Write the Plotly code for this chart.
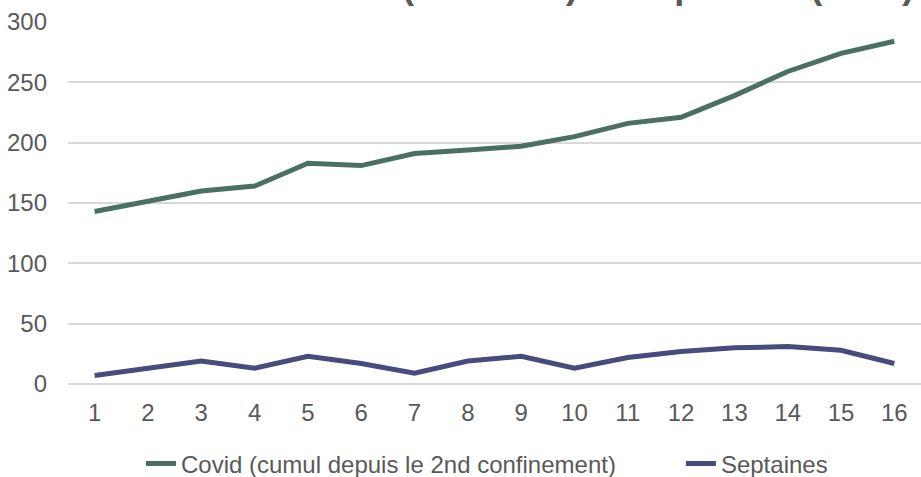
import plotly.graph_objects as go

weeks = [str(i) for i in range(1, 17)]
covid = [143, 151, 160, 164, 183, 181, 191, 194, 197, 205, 216, 221, 239, 259, 274, 284]
septaines = [7, 13, 19, 13, 23, 17, 9, 19, 23, 13, 22, 27, 30, 31, 28, 17]
y_ticks = [0, 50, 100, 150, 200, 250, 300]

title_text = "Nombre de cas (Covid-19) et Septaines (2021)"
covid_name = "Covid (cumul depuis le 2nd confinement)" + "\u00a0" * 9
sept_name = "Septaines"
font_family = "Liberation Sans, Arial, sans-serif"
gray = "#595959"

fig = go.Figure()
fig.add_trace(go.Scatter(x=weeks, y=covid, mode="lines", name=covid_name,
                         line=dict(color="#4A6F65", width=5)))
fig.add_trace(go.Scatter(x=weeks, y=septaines, mode="lines", name=sept_name,
                         line=dict(color="#474C7C", width=5)))

fig.update_layout(
    width=921, height=477,
    margin=dict(l=68, r=0, t=22, b=93, autoexpand=False),
    paper_bgcolor="white", plot_bgcolor="white",
    font=dict(family=font_family, size=24, color=gray),
    showlegend=True,
    legend=dict(orientation="h", xref="container", yref="container",
                x=141 / 921, xanchor="left", y=1 - 464 / 477, yanchor="middle",
                font=dict(size=24, color=gray), bgcolor="rgba(0,0,0,0)"),
    annotations=[dict(text=title_text, xref="paper", yref="paper", x=0.075, y=1,
                      xanchor="left", yanchor="bottom", yshift=14, showarrow=False,
                      font=dict(size=36, color=gray, family=font_family, weight="bold"))],
)
fig.update_xaxes(type="category", range=[-0.5, 15.5], showgrid=False, showline=False,
                 automargin=False, ticks="", ticklabelstandoff=12,
                 tickfont=dict(size=24, color=gray))
fig.update_yaxes(range=[0, 300], tickvals=y_ticks, showgrid=True, gridcolor="#D9D9D9",
                 gridwidth=1.5, zeroline=True, zerolinecolor="#D9D9D9", zerolinewidth=1.5,
                 showline=False, automargin=False, ticks="", ticklabelstandoff=20,
                 tickfont=dict(size=24, color=gray))

fig.write_html("out.html", config={"displayModeBar": False},
               post_script="document.body.style.margin='0';")
